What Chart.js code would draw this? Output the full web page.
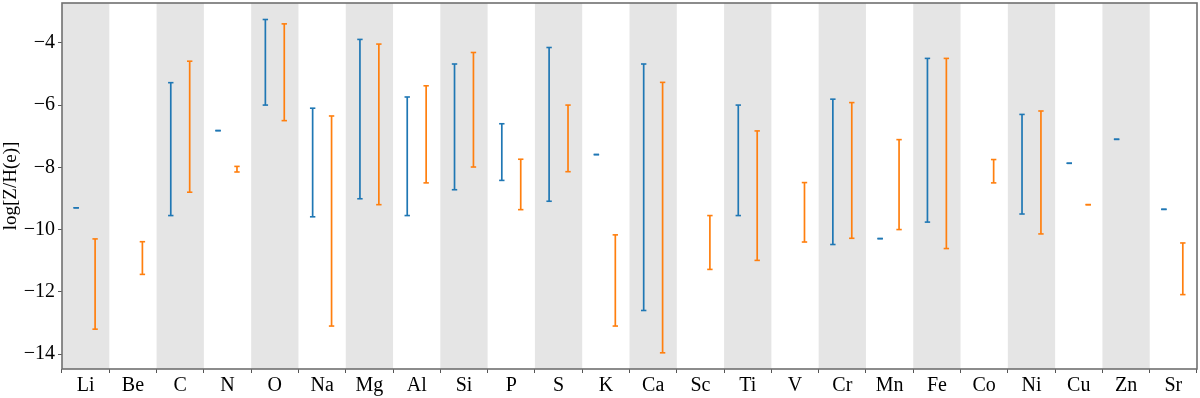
<!DOCTYPE html>
<html lang="en">

<head>
    <meta charset="UTF-8">
    <title>log[Z/H(e)]</title>
    <script src="https://cdn.jsdelivr.net/npm/chart.js"></script>
    <style>
        html,
        body {
            margin: 0;
            padding: 0;
            background: #fff;
        }

        #wrap {
            width: 1200px;
            height: 398px;
        }
    </style>
</head>

<body>
    <div id="wrap"><canvas id="chart"></canvas></div>

    <script>
        const elements = ['Li', 'Be', 'C', 'N', 'O', 'Na', 'Mg', 'Al', 'Si', 'P', 'S', 'K', 'Ca', 'Sc',
            'Ti', 'V', 'Cr', 'Mn', 'Fe', 'Co', 'Ni', 'Cu', 'Zn', 'Sr'];

        // blue series: lower / upper ends (null = no bar)
        const blueLow = [-9.30, null, -9.55, -6.82, -6.00, -9.59, -9.01, -9.55, -8.72, -8.42, -9.09, -7.59,
            -12.60, null, -9.55, null, -10.48, -10.29, -9.76, null, -9.50, -7.87, -7.10, -9.35];
        const blueHigh = [-9.30, null, -5.28, -6.82, -3.25, -6.10, -3.89, -5.74, -4.68, -6.60, -4.15, -7.59,
            -4.68, null, -6.00, null, -5.81, -10.29, -4.50, null, -6.30, -7.87, -7.10, -9.35];

        // orange series
        const orangeLow = [-13.20, -11.44, -8.80, -8.15, -6.50, -13.10, -9.20, -8.50, -7.99, -9.36, -8.14, -13.10,
            -13.96, -11.28, -10.99, -10.40, -10.28, -10.00, -10.61, -8.50, -10.14, -9.20, null, -12.09];
        const orangeHigh = [-10.30, -10.39, -4.59, -7.97, -3.39, -6.35, -4.04, -5.38, -4.31, -7.74, -6.00, -10.17,
            -5.27, -9.55, -6.83, -8.49, -5.92, -7.11, -4.50, -7.75, -6.19, -9.20, null, -10.43];

        const yTicks = [-14, -12, -10, -8, -6, -4];

        const toRanges = (lo, hi) => lo.map((v, i) => v === null ? null : [v, hi[i]]);

        const FONT = 'Liberation Serif, Times New Roman, serif';
        const CAP = 2.7;

        // grey bands behind every other element, caps on the bars, frame
        const extras = {
            id: 'extras',
            beforeDatasetsDraw(chart) {
                const { ctx, chartArea, scales } = chart;
                const w = chartArea.width / elements.length;
                ctx.save();
                ctx.fillStyle = '#e5e5e5';
                elements.forEach((e, i) => {
                    if (i % 2 !== 0) return;
                    const cx = scales.x.getPixelForValue(i);
                    ctx.fillRect(cx - w / 2, chartArea.top, w, chartArea.height);
                });
                ctx.restore();
            },
            afterDatasetsDraw(chart) {
                const { ctx, scales } = chart;
                ctx.save();
                ctx.lineWidth = 1.6;
                chart.data.datasets.forEach((ds, di) => {
                    const meta = chart.getDatasetMeta(di);
                    ctx.strokeStyle = ds.backgroundColor;
                    meta.data.forEach((bar, i) => {
                        const r = ds.data[i];
                        if (!r) return;
                        const x = bar.x;
                        [r[0], r[1]].forEach(v => {
                            const y = scales.y.getPixelForValue(v);
                            ctx.beginPath();
                            ctx.moveTo(x - CAP, y);
                            ctx.lineTo(x + CAP, y);
                            ctx.stroke();
                        });
                    });
                });
                ctx.restore();
            },
            afterDraw(chart) {
                const { ctx, chartArea } = chart;
                ctx.save();
                ctx.strokeStyle = '#707070';
                ctx.lineWidth = 1.6;
                ctx.strokeRect(chartArea.left, chartArea.top, chartArea.width, chartArea.height);
                ctx.restore();
            }
        };

        new Chart(document.getElementById('chart'), {
            type: 'bar',
            data: {
                labels: elements,
                datasets: [{
                    label: 'blue',
                    data: toRanges(blueLow, blueHigh),
                    backgroundColor: '#1f77b4',
                    maxBarThickness: 1.7
                }, {
                    label: 'orange',
                    data: toRanges(orangeLow, orangeHigh),
                    backgroundColor: '#ff7f0e',
                    maxBarThickness: 1.7
                }]
            },
            options: {
                responsive: true,
                maintainAspectRatio: false,
                animation: false,
                categoryPercentage: 0.8,
                barPercentage: 1,
                layout: { padding: { top: 3, right: 3, left: 0, bottom: 0 } },
                plugins: {
                    legend: { display: false },
                    tooltip: { enabled: false }
                },
                scales: {
                    x: {
                        grid: { display: true, drawOnChartArea: false, drawTicks: true, tickLength: 4, color: '#555' },
                        border: { display: false },
                        ticks: {
                            color: '#000',
                            font: { family: FONT, size: 20 },
                            padding: 1,
                            maxRotation: 0,
                            autoSkip: false
                        },
                        afterFit(scale) {
                            scale.height = 29;
                            scale.paddingLeft = 0;
                            scale.paddingRight = 0;
                        }
                    },
                    y: {
                        min: -14.48,
                        max: -2.72,
                        grid: { display: true, drawOnChartArea: false, drawTicks: true, tickLength: 4, color: '#555' },
                        border: { display: false },
                        afterBuildTicks(scale) {
                            scale.ticks = yTicks.map(v => ({ value: v }));
                        },
                        ticks: {
                            color: '#000',
                            font: { family: FONT, size: 20 },
                            padding: 3,
                            callback: v => (v < 0 ? '\u2212' : '') + Math.abs(v)
                        },
                        title: {
                            display: true,
                            text: 'log[Z/H(e)]',
                            color: '#000',
                            font: { family: FONT, size: 19 },
                            padding: { top: 0, bottom: 0 }
                        },
                        afterFit(scale) {
                            scale.width = 62;
                            scale.paddingTop = 0;
                            scale.paddingBottom = 0;
                        }
                    }
                }
            },
            plugins: [extras]
        });
    </script>
</body>

</html>
